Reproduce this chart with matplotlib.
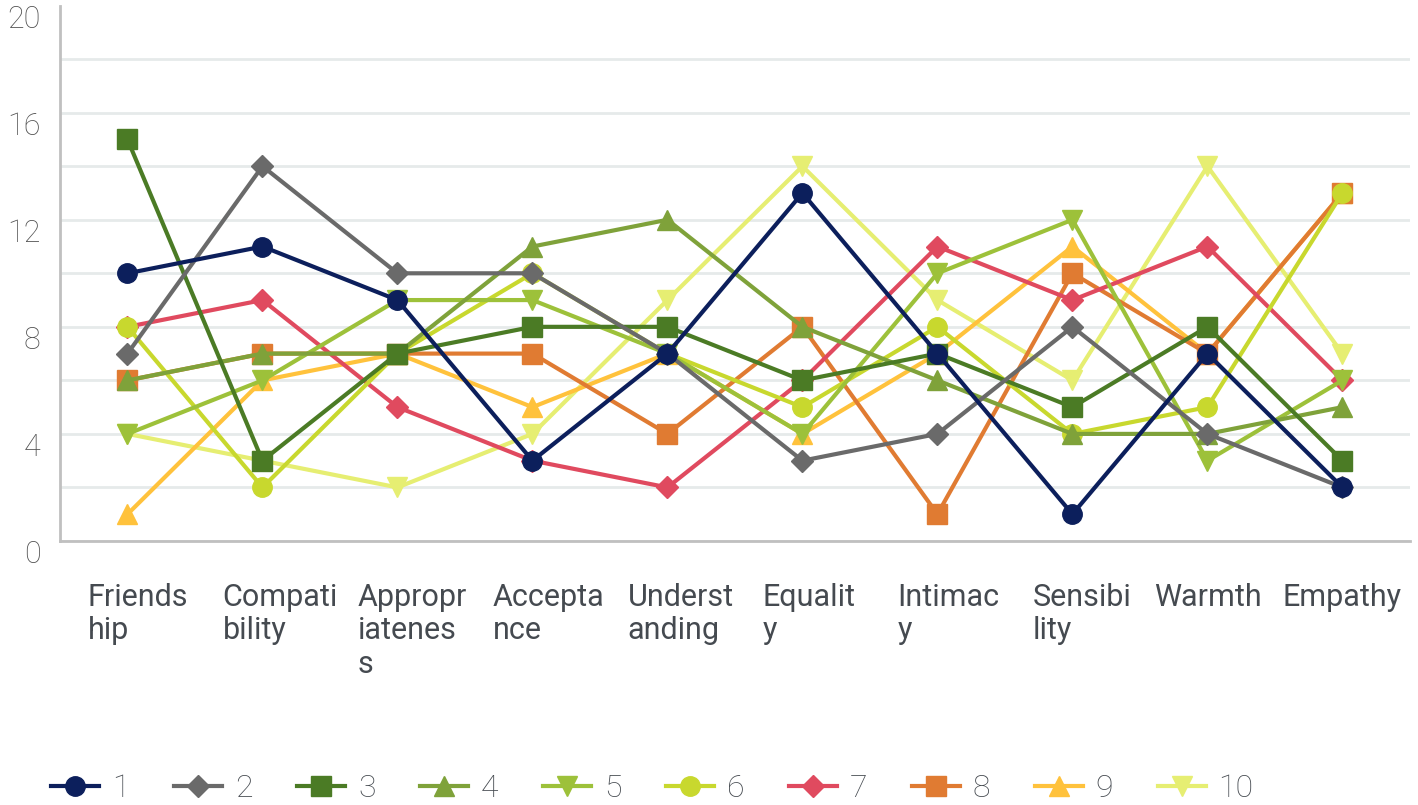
import numpy as np
import matplotlib
matplotlib.use("Agg")
import matplotlib.pyplot as plt
from matplotlib.transforms import ScaledTranslation

plt.rcParams['font.family'] = ['Roboto', 'DejaVu Sans']

# category labels, wrapped the way the original chart wraps them
categories = ["Friends\nhip", "Compati\nbility", "Appropr\niatenes\ns", "Accepta\nnce",
              "Underst\nanding", "Equalit\ny", "Intimac\ny", "Sensibi\nlity", "Warmth", "Empathy"]

s1 = [10, 11, 9, 3, 7, 13, 7, 1, 7, 2]
s2 = [7, 14, 10, 10, 7, 3, 4, 8, 4, 2]
s3 = [15, 3, 7, 8, 8, 6, 7, 5, 8, 3]
s4 = [6, 7, 7, 11, 12, 8, 6, 4, 4, 5]
s5 = [4, 6, 9, 9, 7, 4, 10, 12, 3, 6]
s6 = [8, 2, 7, 10, 7, 5, 8, 4, 5, 13]
s7 = [8, 9, 5, 3, 2, 6, 11, 9, 11, 6]
s8 = [6, 7, 7, 7, 4, 8, 1, 10, 7, 13]
s9 = [1, 6, 7, 5, 7, 4, 7, 11, 7, 13]
s10 = [4, 3, 2, 4, 9, 14, 9, 6, 14, 7]

series = [s1, s2, s3, s4, s5, s6, s7, s8, s9, s10]
names = ["1", "2", "3", "4", "5", "6", "7", "8", "9", "10"]
colors = ["#0c1f5c", "#6a6a6a", "#4b7b25", "#7fa23a", "#9dc13a",
          "#c8d82e", "#e04a5f", "#e07b32", "#ffc23c", "#e6ee72"]
markers = ["o", "D", "s", "^", "v", "o", "D", "s", "^", "v"]
msizes = [14, 11, 14, 15, 15, 14, 11, 14, 15, 15]

fig = plt.figure(figsize=(14.18, 8.05), dpi=100)
ax = fig.add_axes([0.0423, 0.328, 0.952, 0.665])

x = np.arange(len(categories))
for i, (vals, nm) in enumerate(zip(series, names)):
    ax.plot(x, vals, color=colors[i], marker=markers[i], markersize=msizes[i],
            linewidth=3, label=nm, zorder=20 - i, clip_on=False)

ax.set_xlim(-0.5, 9.5)
ax.set_ylim(0, 20)
ax.set_yticks(np.arange(0, 21, 2))
ax.set_yticklabels([str(v) if v % 4 == 0 else "" for v in range(0, 21, 2)])
ax.yaxis.grid(True, color="#e6eaea", linewidth=2)
ax.yaxis.get_gridlines()[-1].set_visible(False)
ax.set_axisbelow(True)
ax.tick_params(axis="y", length=0, pad=14, labelsize=22, labelcolor="#505050")
for lab in ax.get_yticklabels():
    lab.set_fontweight("light")
    lab.set_transform(lab.get_transform() + ScaledTranslation(0, -0.11, fig.dpi_scale_trans))

ax.set_xticks(x)
ax.set_xticklabels(categories)
ax.tick_params(axis="x", length=0, pad=30, labelsize=22, labelcolor="#454a50")
for lab, txt in zip(ax.get_xticklabels(), categories):
    lab.set_linespacing(1.2)
    if "\n" in txt:
        lab.set_ha("left")
        lab.set_transform(lab.get_transform() + ScaledTranslation(-0.40, 0, fig.dpi_scale_trans))

for side in ["top", "right"]:
    ax.spines[side].set_visible(False)
for side in ["left", "bottom"]:
    ax.spines[side].set_color("#c0c0c0")
    ax.spines[side].set_linewidth(2)

leg = fig.legend(loc="lower left", bbox_to_anchor=(0.016, -0.033), ncol=10, frameon=False,
                 prop={"size": 23, "weight": "light"}, handlelength=1.5,
                 handletextpad=0.4, columnspacing=1.4)
for t in leg.get_texts():
    t.set_color("#454a50")

fig.savefig("out.png", dpi=100)
